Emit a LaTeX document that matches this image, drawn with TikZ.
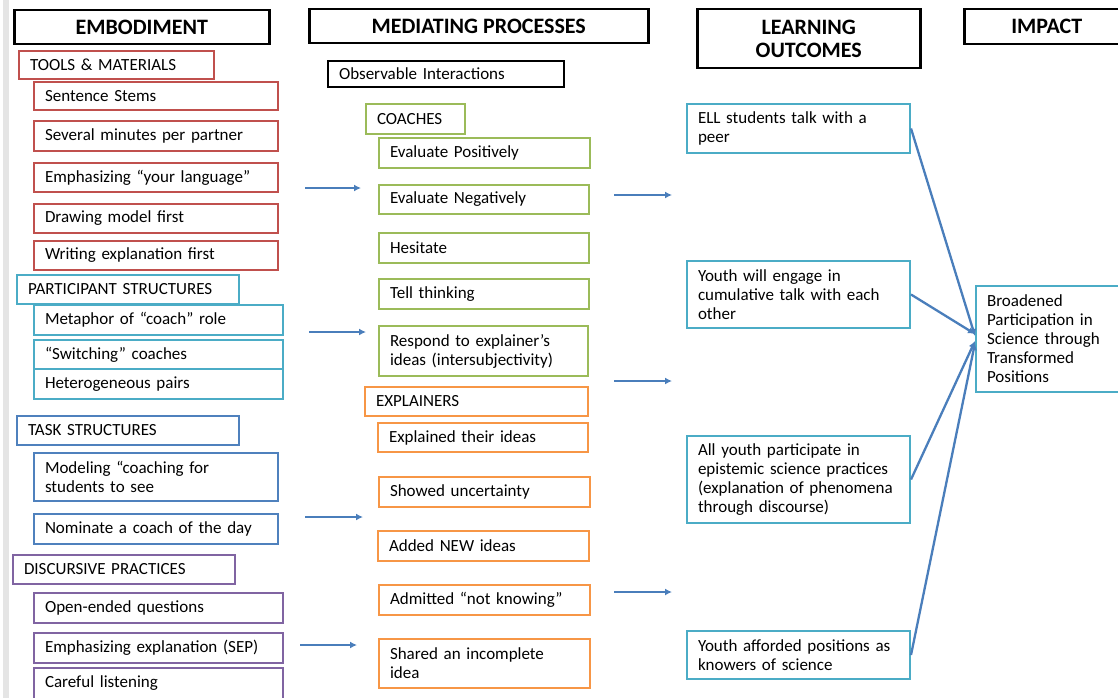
\documentclass[tikz,border=0pt]{standalone}
\usepackage{fontspec}
\setmainfont{Carlito}
\usetikzlibrary{arrows.meta}
\definecolor{toolred}{HTML}{C0504D}
\definecolor{partcyan}{HTML}{4BACC6}
\definecolor{taskblue}{HTML}{4F81BD}
\definecolor{talkpurple}{HTML}{8064A2}
\definecolor{coachgreen}{HTML}{9BBB59}
\definecolor{explorange}{HTML}{F79646}
\definecolor{arrowblue}{HTML}{4A7EBB}

\begin{document}
\begin{tikzpicture}[x=1pt, y=-1pt, font=\fontsize{17}{19}\selectfont,
    box/.style={draw=#1, line width=2pt, anchor=north west, inner xsep=11pt, inner ysep=0pt, align=left},
    head/.style={draw=black, line width=2.5pt, anchor=north west, inner sep=0pt, align=center, font=\fontsize{22}{23}\selectfont\bfseries},
    flow/.style={draw=arrowblue, line width=2.3pt, -{Latex[length=7pt,width=7pt]}}]
  \useasboundingbox (0,0) rectangle (1118,698);
  \fill [gray!20] (3,0) rectangle (9,698);

  \node [head, minimum width=255pt, minimum height=34pt] (embodiment) at (13,9) {EMBODIMENT};
  \node [head, minimum width=339pt, minimum height=34pt] (mediating) at (308,8) {MEDIATING PROCESSES};
  \node [head, minimum width=223pt, minimum height=59pt] (outcomes) at (696,8) {LEARNING\\OUTCOMES};
  \node [head, minimum width=165pt, minimum height=35pt] (impact) at (963,8) {IMPACT};

  \node [box=toolred, text width=173pt, minimum height=28pt] (tools) at (18,50) {TOOLS \& MATERIALS};
  \node [box=toolred, text width=222pt, minimum height=28pt] (stems) at (33,81) {Sentence Stems};
  \node [box=toolred, text width=222pt, minimum height=30pt] (minutes) at (33,120) {Several minutes per partner};
  \node [box=toolred, text width=222pt, minimum height=29pt] (yourlang) at (33,162) {Emphasizing “your language”};
  \node [box=toolred, text width=222pt, minimum height=29pt] (drawfirst) at (33,203) {Drawing model first};
  \node [box=toolred, text width=222pt, minimum height=29pt] (writefirst) at (33,240) {Writing explanation first};

  \node [box=partcyan, text width=200pt, minimum height=29pt] (partic) at (16,274) {PARTICIPANT STRUCTURES};
  \node [box=partcyan, text width=227pt, minimum height=30pt] (coachrole) at (33,304) {Metaphor of “coach” role};
  \node [box=partcyan, text width=227pt, minimum height=29pt] (switching) at (33,339) {“Switching” coaches};
  \node [box=partcyan, text width=227pt, minimum height=30pt] (hetero) at (33,368) {Heterogeneous pairs};

  \node [box=taskblue, text width=200pt, minimum height=29pt] (task) at (16,415) {TASK STRUCTURES};
  \node [box=taskblue, text width=222pt, minimum height=48pt] (modeling) at (33,452) {Modeling “coaching for\\students to see};
  \node [box=taskblue, text width=222pt, minimum height=30pt] (nominate) at (33,513) {Nominate a coach of the day};

  \node [box=talkpurple, text width=200pt, minimum height=29pt] (discourse) at (12,554) {DISCURSIVE PRACTICES};
  \node [box=talkpurple, text width=227pt, minimum height=30pt] (openq) at (33,592) {Open-ended questions};
  \node [box=talkpurple, text width=227pt, minimum height=30pt] (sep) at (33,632) {Emphasizing explanation (SEP)};
  \node [box=talkpurple, text width=227pt, minimum height=31pt] (listening) at (33,667) {Careful listening};

  \node [box=black, text width=214pt, minimum height=26pt] (observe) at (327,60) {Observable Interactions};

  \node [box=coachgreen, text width=77pt, minimum height=30pt] (coaches) at (365,103) {COACHES};
  \node [box=coachgreen, text width=189pt, minimum height=30pt] (evalpos) at (378,137) {Evaluate Positively};
  \node [box=coachgreen, text width=188pt, minimum height=29pt] (evalneg) at (378,184) {Evaluate Negatively};
  \node [box=coachgreen, text width=188pt, minimum height=30pt] (hesitate) at (378,232) {Hesitate};
  \node [box=coachgreen, text width=188pt, minimum height=30pt] (tell) at (378,278) {Tell thinking};
  \node [box=coachgreen, text width=187pt, minimum height=50pt] (respond) at (378,325) {Respond to explainer’s\\ideas (intersubjectivity)};

  \node [box=explorange, text width=201pt, minimum height=29pt] (explainers) at (364,386) {EXPLAINERS};
  \node [box=explorange, text width=188pt, minimum height=29pt] (explained) at (377,422) {Explained their ideas};
  \node [box=explorange, text width=189pt, minimum height=30pt] (uncertain) at (378,476) {Showed uncertainty};
  \node [box=explorange, text width=189pt, minimum height=30pt] (newideas) at (377,530) {Added NEW ideas};
  \node [box=explorange, text width=189pt, minimum height=30pt] (notknow) at (378,584) {Admitted “not knowing”};
  \node [box=explorange, text width=189pt, minimum height=49pt] (incomplete) at (378,638) {Shared an incomplete\\idea};

  \node [box=partcyan, text width=201pt, minimum height=49pt] (ell) at (686,103) {ELL students talk with a\\peer};
  \node [box=partcyan, text width=201pt, minimum height=67pt] (cumul) at (686,260) {Youth will engage in\\cumulative talk with each\\other};
  \node [box=partcyan, text width=201pt, minimum height=87pt] (epistemic) at (686,435) {All youth participate in\\epistemic science practices\\(explanation of phenomena\\through discourse)};
  \node [box=partcyan, text width=201pt, minimum height=48pt] (knowers) at (686,630) {Youth afforded positions as\\knowers of science};
  \node [box=partcyan, text width=128pt, minimum height=106pt] (broad) at (975,285) {Broadened\\Participation in\\Science through\\Transformed\\Positions};

  \coordinate (in1a) at (305,188);
  \coordinate (in1b) at (361,188);
  \coordinate (in2a) at (309,332);
  \coordinate (in2b) at (366,332);
  \coordinate (in3a) at (305,517);
  \coordinate (in3b) at (363,517);
  \coordinate (in4a) at (300,645);
  \coordinate (in4b) at (357,645);
  \coordinate (out1a) at (614,195);
  \coordinate (out1b) at (672,195);
  \coordinate (out2a) at (614,381);
  \coordinate (out2b) at (672,381);
  \coordinate (out3a) at (614,592);
  \coordinate (out3b) at (672,592);
  \draw [flow] (in1a) -- (in1b);
  \draw [flow] (in2a) -- (in2b);
  \draw [flow] (in3a) -- (in3b);
  \draw [flow] (in4a) -- (in4b);
  \draw [flow] (out1a) -- (out1b);
  \draw [flow] (out2a) -- (out2b);
  \draw [flow] (out3a) -- (out3b);

  \draw [flow] (ell.east) -- ([yshift=3pt]broad.west);
  \draw [flow] (cumul.east) -- ([yshift=5pt]broad.west);
  \draw [flow] (epistemic.east) -- ([yshift=-2pt]broad.west);
  \draw [flow] (knowers.east) -- ([yshift=-4pt]broad.west);
\end{tikzpicture}
\end{document}
